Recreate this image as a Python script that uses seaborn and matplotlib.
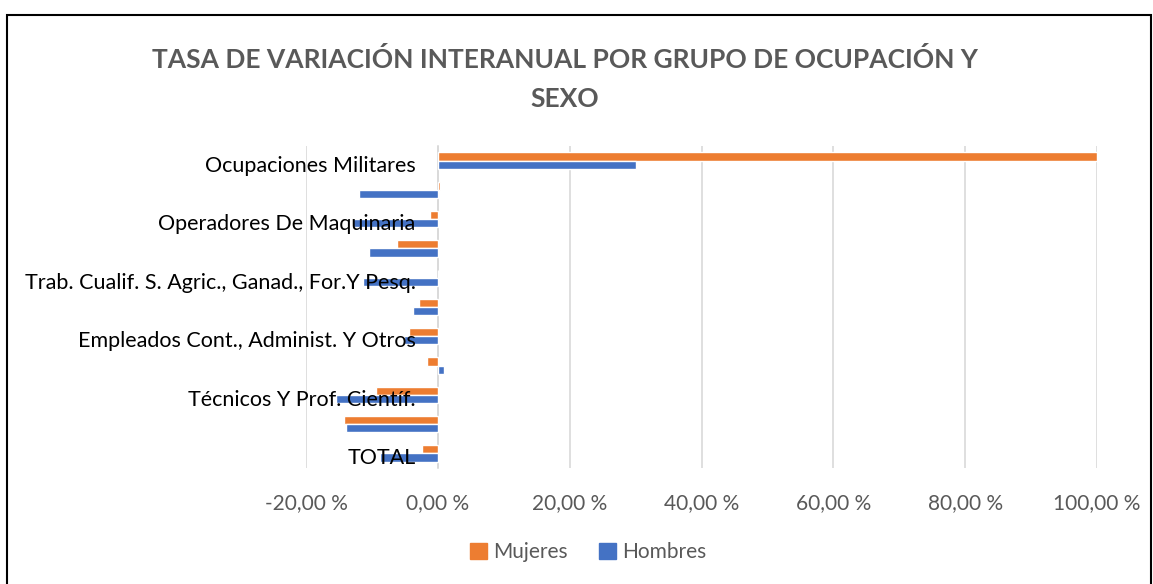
import numpy as np
import pandas as pd
import matplotlib.pyplot as plt
import seaborn as sb
from matplotlib.patches import Rectangle
from matplotlib.ticker import FuncFormatter
from matplotlib.transforms import ScaledTranslation

# Data (top to bottom, as in the chart)
categorias = ['Ocupaciones Militares', 'Ocupaciones Elementales', 'Operadores De Maquinaria',
              'Artesanos Y Trab. Cualif. Industria', 'Trab. Cualif. S. Agric., Ganad., For.Y Pesq.',
              'Trab. Serv. Restaur., Pers., Protec. Y Vend.', 'Empleados Cont., Administ. Y Otros',
              'Técnicos; Profesionales De Apoyo', 'Técnicos Y Prof. Científ.',
              'Directores Y Gerentes', 'TOTAL']
etiquetas = ['Ocupaciones Militares', '', 'Operadores De Maquinaria', '',
             'Trab. Cualif. S. Agric., Ganad., For.Y Pesq.', '',
             'Empleados Cont., Administ. Y Otros', '', 'Técnicos Y Prof. Científ.', '', 'TOTAL']
mujeres = [100.0, 0.3, -1.2, -6.2, 0.0, -2.9, -4.4, -1.7, -9.4, -14.2, -2.4]
hombres = [30.0, -12.0, -13.0, -10.4, -11.4, -3.8, -5.2, 0.9, -15.5, -13.9, -8.8]
series = ['Mujeres', 'Hombres']
colores = ['#ED7D31', '#4472C4']

df = pd.DataFrame({
    'grupo': categorias * 2,
    'sexo': ['Mujeres'] * len(categorias) + ['Hombres'] * len(categorias),
    'tasa': mujeres + hombres,
})

sb.set_style('white')
plt.rcParams['font.family'] = ['Lato', 'DejaVu Sans']
gris = '#595959'

fig = plt.figure(figsize=(11.53, 5.84), dpi=100)
ax = fig.add_axes([306 / 1153, 1 - 468 / 584, (1097 - 306) / 1153, (468 - 146) / 584])

sb.barplot(data=df, y='grupo', x='tasa', hue='sexo', order=categorias, hue_order=series,
           palette=colores, width=0.56, orient='h', saturation=1, ax=ax, zorder=2)
ax.get_legend().remove()

ax.set_xlim(-20, 100)
ax.set_xticks(np.arange(-20, 101, 20))
ax.xaxis.set_major_formatter(FuncFormatter(lambda v, p: f'{v:.2f} %'.replace('.', ',')))
ax.grid(axis='x', color='#D9D9D9', lw=1.2)
ax.grid(axis='y', visible=False)
ax.xaxis.set_zorder(0.5)
ax.yaxis.set_zorder(5)
for s in ['top', 'right', 'bottom']:
    ax.spines[s].set_visible(False)
ax.spines['left'].set_position(('data', 0))
ax.spines['left'].set_color('#D9D9D9')
ax.spines['left'].set_linewidth(1.2)
ax.spines['left'].set_zorder(1)
ax.set_yticks(range(len(categorias)))
ax.set_yticklabels(etiquetas)
ax.tick_params(axis='y', length=0, pad=16, labelsize=15.5, labelcolor='black')
ax.tick_params(axis='x', length=0, pad=18, labelsize=15, labelcolor=gris)
# labels sit a little below the bar pair, like Excel
bajar = ScaledTranslation(0, -3 / 100, fig.dpi_scale_trans)
for t in ax.get_yticklabels():
    t.set_transform(t.get_transform() + bajar)
ax.set_xlabel('')
ax.set_ylabel('')

fig.text(0.49, 1 - 79 / 584, 'TASA DE VARIACIÓN INTERANUAL POR GRUPO DE OCUPACIÓN Y\nSEXO',
         ha='center', va='center', fontsize=19, fontweight='bold', color=gris, linespacing=1.75)

handles = [Rectangle((0, 0), 1, 1, color=c) for c in colores]
fig.legend(handles, series, loc='center', bbox_to_anchor=(0.51, 1 - 552 / 584), ncol=2,
           frameon=False, fontsize=15, labelcolor=gris, handlelength=0.8, handleheight=0.8,
           handletextpad=0.3, columnspacing=1.5)

fig.patches.append(Rectangle((7 / 1153, -0.01), 1144 / 1153, 1 - 15 / 584 + 0.01,
                             transform=fig.transFigure, fill=False, ec='black', lw=1.5))

fig.savefig('out.png', dpi=100)
